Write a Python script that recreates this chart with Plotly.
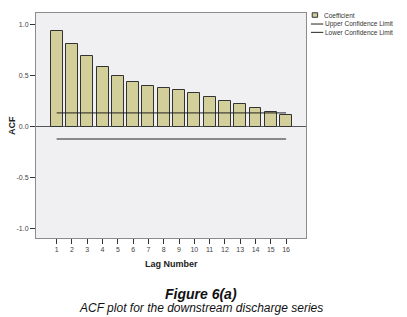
import plotly.graph_objects as go

lags = list(range(1, 17))
coefficient = [0.93, 0.81, 0.686, 0.585, 0.497, 0.44, 0.395, 0.376, 0.356, 0.327,
               0.287, 0.248, 0.219, 0.18, 0.14, 0.11]
upper_limit = [0.133] * 16
lower_limit = [-0.122] * 16
y_ticks = [-1.0, -0.5, 0.0, 0.5, 1.0]
y_tick_labels = ["-1.0", "-0.5", "0.0", "0.5", "1.0"]
legend_labels = ["Coefficient", "Upper Confidence Limit", "Lower Confidence Limit"]

BAR = "#d3cf9b"
LINE = "#222222"
FONT = "Liberation Sans, Arial, sans-serif"
CAP_FONT = "Liberation Sans Narrow, Liberation Sans, sans-serif"

fig = go.Figure()
fig.add_trace(go.Bar(x=lags, y=coefficient, width=0.78, marker_color=BAR,
                     marker_line_color="#333333", marker_line_width=1,
                     name=legend_labels[0], showlegend=False))
fig.add_trace(go.Scatter(x=lags, y=upper_limit, mode="lines",
                         line=dict(color=LINE, width=1), name=legend_labels[1], showlegend=False))
fig.add_trace(go.Scatter(x=lags, y=lower_limit, mode="lines",
                         line=dict(color=LINE, width=1), name=legend_labels[2], showlegend=False))

# page body has an 8px default margin, so the figure is offset by (8, 8)
fig.update_layout(
    width=399, height=309,
    margin=dict(l=28, r=101, t=5, b=79),
    paper_bgcolor="white", plot_bgcolor="#f0f0f2",
    font=dict(family=FONT, size=7, color="#444444"),
    bargap=0,
    xaxis=dict(range=[-0.35, 17.3], tickvals=lags, ticktext=[str(v) for v in lags],
               ticks="outside", ticklen=5, tickcolor="#333", showgrid=False, zeroline=False,
               showline=True, linecolor="#8c8c8c", linewidth=1, mirror=True,
               tickfont=dict(size=7, color="#444")),
    yaxis=dict(range=[-1.09, 1.11], tickvals=y_ticks, ticktext=y_tick_labels,
               ticks="outside", ticklen=5, tickcolor="#333", showgrid=False,
               zeroline=True, zerolinecolor="#555555", zerolinewidth=1,
               showline=True, linecolor="#8c8c8c", linewidth=1, mirror=True,
               tickfont=dict(size=7, color="#444")),
)

# axis titles
fig.add_annotation(text="<b>Lag Number</b>", x=0.5, y=-0.115, xref="paper", yref="paper",
                   xanchor="center", yanchor="middle", showarrow=False,
                   font=dict(size=9, color="#222", family=FONT))
fig.add_annotation(text="<b>ACF</b>", x=-0.091, y=0.5, xref="paper", yref="paper",
                   textangle=-90, xanchor="center", yanchor="middle", showarrow=False,
                   font=dict(size=9, color="#222", family=FONT))

# legend (manual)
fig.add_shape(type="rect", xref="paper", yref="paper", x0=1.023, x1=1.043, y0=0.981, y1=1.001,
              fillcolor=BAR, line=dict(color="#333", width=1))
fig.add_annotation(text=legend_labels[0], x=1.058, y=0.990, xref="paper", yref="paper",
                   xanchor="left", yanchor="middle", showarrow=False,
                   font=dict(size=6.5, color="#333"))
for i, yy in enumerate([0.951, 0.914]):
    fig.add_shape(type="line", xref="paper", yref="paper", x0=1.0185, x1=1.064, y0=yy, y1=yy,
                  line=dict(color=LINE, width=1))
    fig.add_annotation(text=legend_labels[i + 1], x=1.062, y=yy, xref="paper", yref="paper",
                       xanchor="left", yanchor="middle", showarrow=False,
                       font=dict(size=6.5, color="#333"))

# caption
fig.add_annotation(text="<b><i>Figure 6(a)</i></b>", x=0.611, y=-0.25, xref="paper", yref="paper",
                   xanchor="center", yanchor="middle", showarrow=False,
                   font=dict(size=14, color="#111", family=CAP_FONT))
fig.add_annotation(text="<i>ACF plot for the downstream discharge series</i>", x=0.611, y=-0.311,
                   xref="paper", yref="paper", xanchor="center", yanchor="middle", showarrow=False,
                   font=dict(size=12, color="#111", family=CAP_FONT))

fig.write_html("out.html")
